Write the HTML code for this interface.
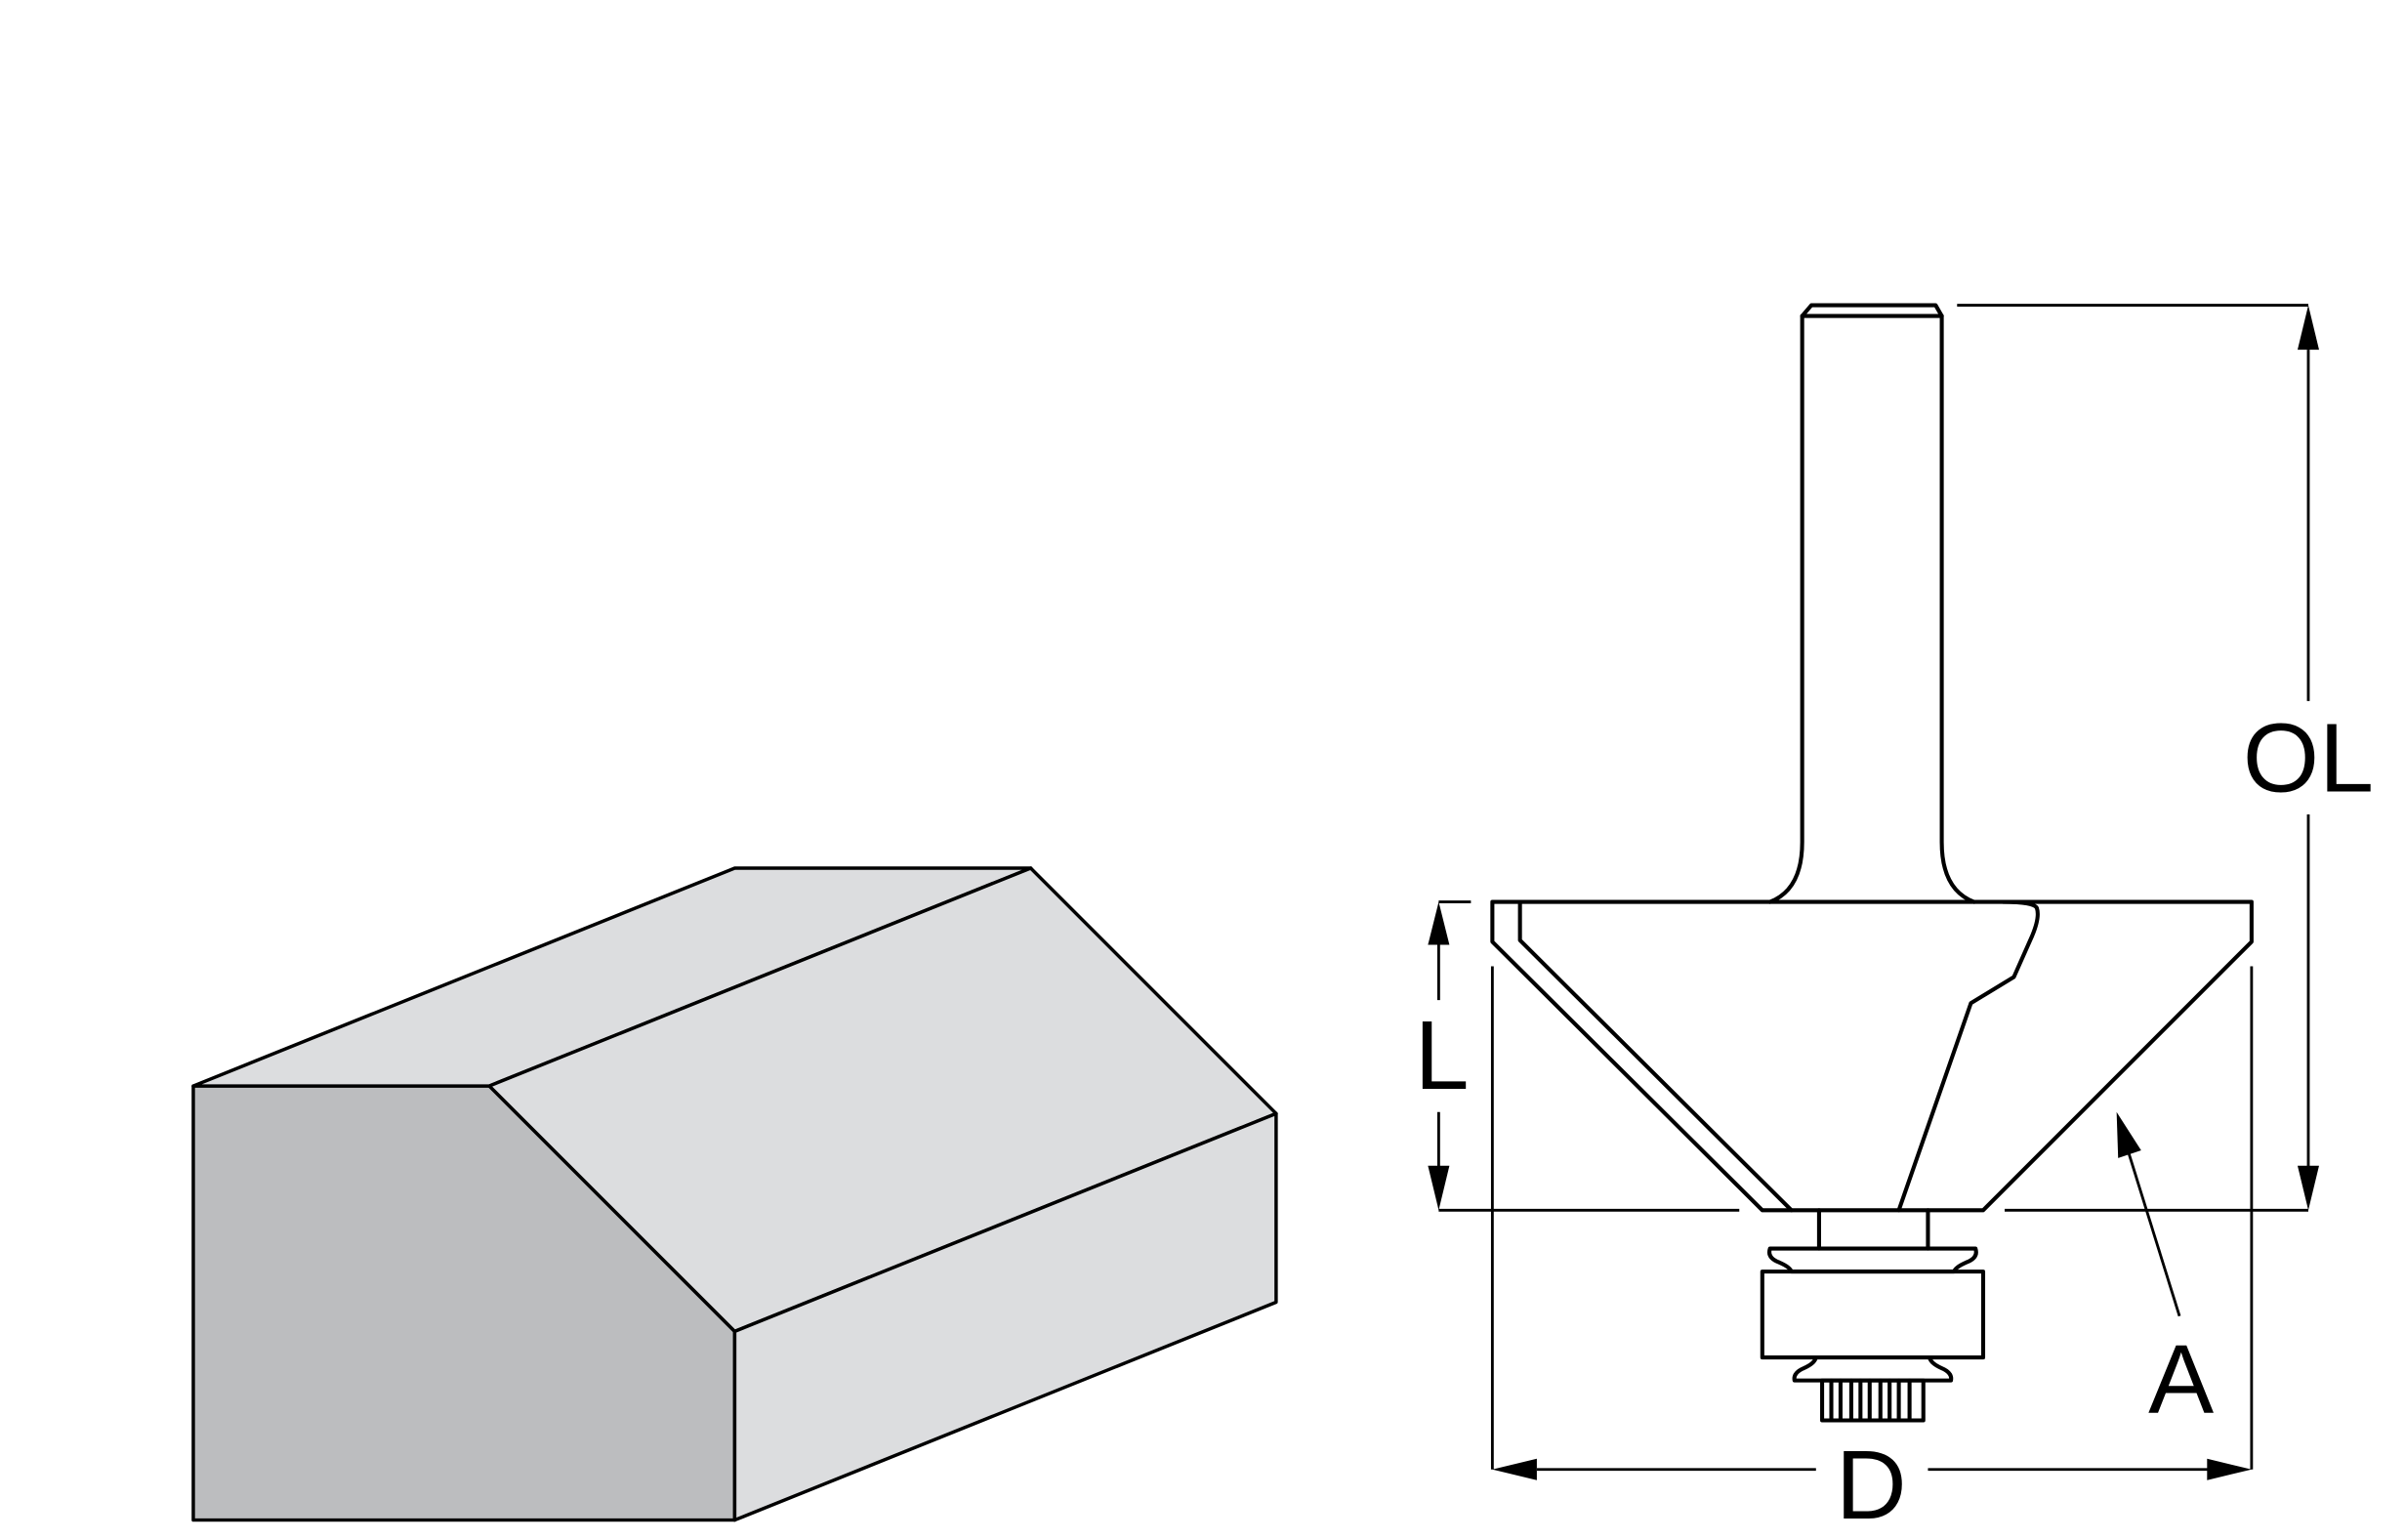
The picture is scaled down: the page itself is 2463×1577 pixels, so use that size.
<!DOCTYPE html>
<html><head><meta charset="utf-8"><style>html,body{margin:0;padding:0;background:#fff}svg{display:block}</style></head>
<body>
<svg width="2463" height="1577" viewBox="0 0 1568 1004" xmlns="http://www.w3.org/2000/svg">
<g stroke="#000" stroke-width="2.2" stroke-linejoin="round" stroke-linecap="round">
 <polygon points="126,708 319,708 479,868 479,991 126,991" fill="#bcbdbf"/>
 <polygon points="126,708 479,566 672,566 319,708" fill="#dcdddf"/>
 <polygon points="319,708 672,566 832,726 479,868" fill="#dcdddf"/>
 <polygon points="479,868 832,726 832,849 479,991" fill="#dcdddf"/>
</g>
<g stroke="#000" stroke-width="2.6" fill="none" stroke-linejoin="round" stroke-linecap="round">
 <path d="M1175,206 L1181,199 L1262,199 L1266,206 Z"/>
 <path d="M1175,206 L1175,549 Q1175,580 1154,588"/>
 <path d="M1266,206 L1266,549 Q1266,580 1287,588"/>
 <path d="M973,588 L1468,588 L1468,614 L1293,789 L1149,789 L973,614 Z"/>
 <path d="M991,588 L991,613 L1168,789"/>
 <path d="M1306,588 Q1326,588 1328,592 Q1330,598 1325,610 L1313,637 L1285,654 L1238,789"/>
 <path d="M1186,789 L1186,814 M1257,789 L1257,814"/>
 <path d="M1154,814 L1288,814 Q1290,820 1282,823 Q1275,826 1274,829 L1168,829 Q1167,826 1160,823 Q1152,820 1154,814 Z"/>
 <rect x="1149" y="829" width="144" height="56"/>
 <path d="M1184,885 Q1183,889 1176,892 Q1169,895 1170,900 L1272,900 Q1273,895 1266,892 Q1259,889 1258,885"/>
 <rect x="1188" y="900" width="66" height="26"/>
 <path d="M1194,900 V926 M1200,900 V926 M1207,900 V926 M1213,900 V926 M1219,900 V926 M1226,900 V926 M1232,900 V926 M1238,900 V926 M1245,900 V926"/>
</g>
<g stroke="#000" stroke-width="1.8" fill="none">
 <path d="M1276,199 H1505 M1505,228 V457 M1505,531 V762 M1307,789 H1505"/>
 <path d="M938,588 H959 M938,616 V652 M938,725 V762 M938,789 H1134"/>
 <path d="M973,630 V958 M1468,630 V958 M1002,958 H1184 M1257,958 H1440"/>
 <path d="M1421,858 L1388,752"/>
</g>
<g fill="#000">
 <polygon points="1505,199 1498,228 1512,228"/>
 <polygon points="1505,789 1498,760 1512,760"/>
 <polygon points="938,588 931,616 945,616"/>
 <polygon points="938,789 931,760 945,760"/>
 <polygon points="973,958 1002,951 1002,965"/>
 <polygon points="1468,958 1439,951 1439,965"/>
 <polygon points="1380,725 1381,755 1396,750"/>
</g>
<g font-family="'Liberation Sans',sans-serif" font-size="64" fill="#000" text-anchor="middle">
 <text x="1505" y="516">OL</text>
 <text x="940" y="710">L</text>
 <text x="1422" y="921">A</text>
 <text x="1220" y="990">D</text>
</g>
</svg>
</body></html>
